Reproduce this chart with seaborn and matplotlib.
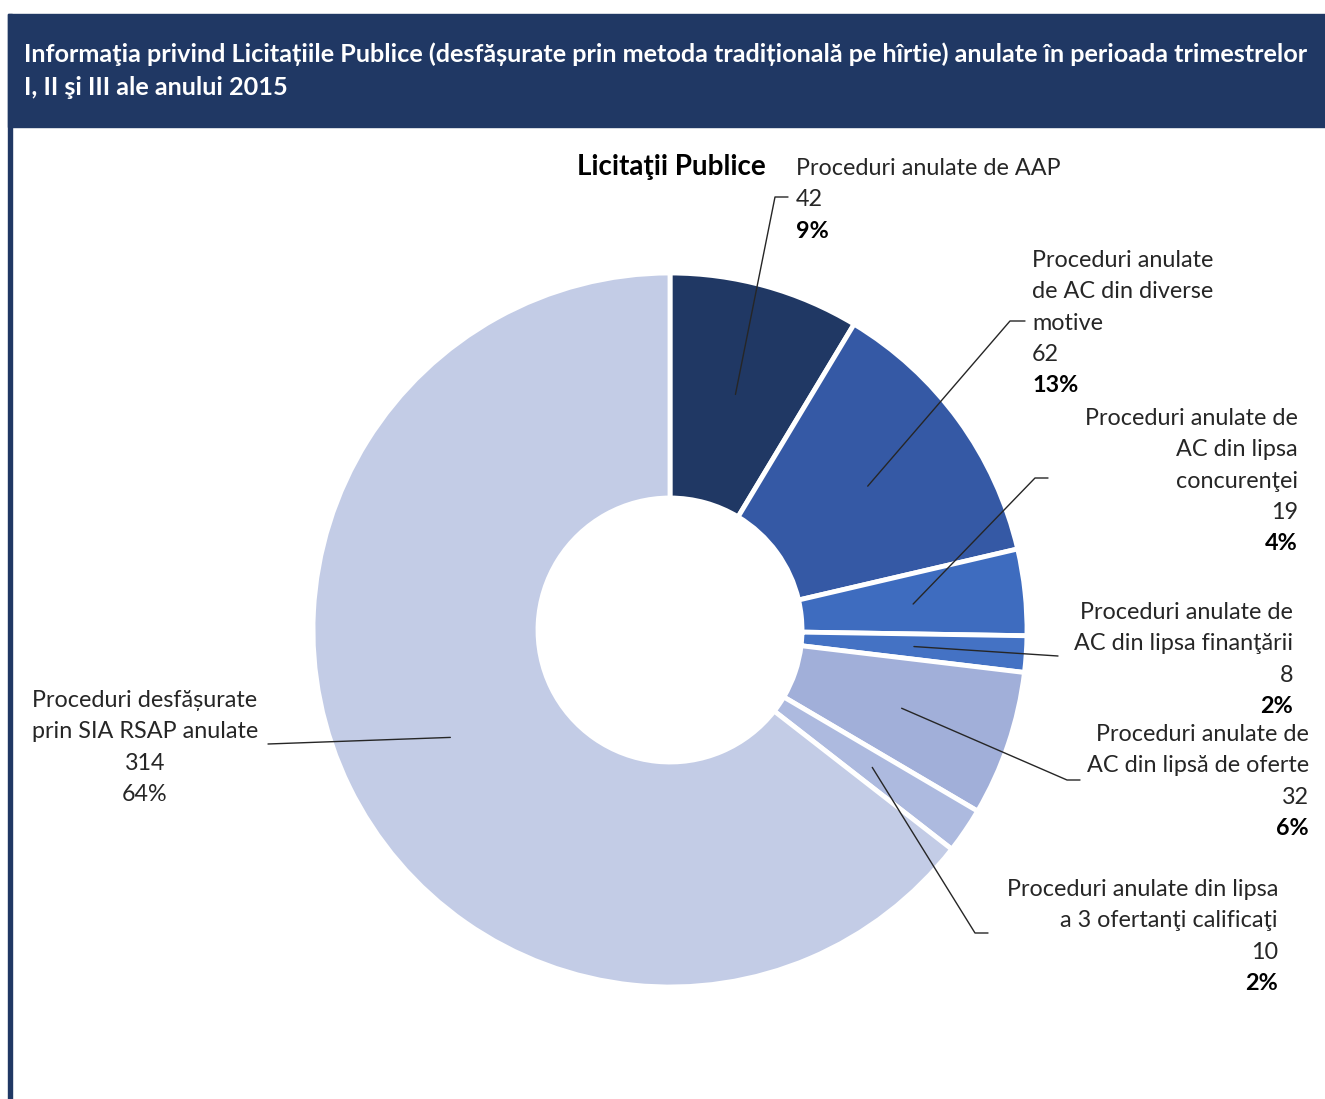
import numpy as np
import matplotlib.pyplot as plt
import seaborn as sns
from matplotlib.patches import Rectangle

W, H = 1325, 1099

# data
names = [
    ["Proceduri anulate de AAP"],
    ["Proceduri anulate", "de AC din diverse", "motive"],
    ["Proceduri anulate de", "AC din lipsa", "concurenţei"],
    ["Proceduri anulate de", "AC din lipsa finanţării"],
    ["Proceduri anulate de", "AC din lipsă de oferte"],
    ["Proceduri anulate din lipsa", "a 3 ofertanţi calificaţi"],
    ["Proceduri desfășurate", "prin SIA RSAP anulate"],
]
values = [42, 62, 19, 8, 32, 10, 314]
pct_labels = ["9%", "13%", "4%", "2%", "6%", "2%", "64%"]
pct_bold = [True, True, True, True, True, True, False]
colors = ["#203864", "#3559a5", "#3e6cbf", "#4472c4", "#a1afd9", "#adbadf", "#c3cce6"]

title_lines = [
    "Informaţia privind Licitațiile Publice (desfășurate prin metoda tradițională pe hîrtie) "
    "anulate în perioada trimestrelor",
    "I, II şi III ale anului 2015",
]
chart_title = "Licitaţii Publice"

# label placement (pixels): text x, first line center y, alignment, elbow point, line end
layout = [
    (796, 167, "left", (775, 197), (788, 197)),
    (1032, 259, "left", (1010, 321), (1025, 321)),
    (1298, 417, "right", (1035, 478), (1048, 478)),
    (1293, 611, "right", (1058, 656), (1058, 656)),
    (1309, 733, "right", (1067, 780), (1080, 780)),
    (1278, 888, "right", (975, 933), (988, 933)),
    (145, 699, "center", (268, 744), (268, 744)),
]

sns.set_theme(style="white")
plt.rcParams["font.family"] = ["Lato", "DejaVu Sans"]

fig = plt.figure(figsize=(W / 100, H / 100), dpi=100)
ax = fig.add_axes([0, 0, 1, 1])

def py(y):
    return H - y

cx, cy, R, r_in = 670, 630, 357, 132

wedges, _ = ax.pie(values, colors=colors, startangle=90, counterclock=False,
                   center=(cx, py(cy)), radius=R,
                   wedgeprops=dict(width=R - r_in, edgecolor="white", linewidth=3.5))

ax.set_xlim(0, W)
ax.set_ylim(0, H)
ax.set_aspect("equal")
ax.axis("off")

# banner and left border
ax.add_patch(Rectangle((8, py(127)), W - 8, 113, color="#203864", zorder=5))
ax.add_patch(Rectangle((8, 0), 4, py(14), color="#203864", zorder=5))
for i, ln in enumerate(title_lines):
    ax.text(24, py(62 + i * 33), ln, color="white", fontsize=18.2, fontweight="bold",
            va="baseline", ha="left", zorder=6)

ax.text(671, py(175), chart_title, fontsize=20, fontweight="bold",
        ha="center", va="baseline", color="black")

step = 31.3
mid_r = (R + r_in) / 2
fs = 16.8
for w, nm, val, pct, bold, lay in zip(wedges, names, values, pct_labels, pct_bold, layout):
    tx, ty, ha, elbow, end = lay
    ang = np.deg2rad((w.theta1 + w.theta2) / 2)
    ax_pt = (cx + mid_r * np.cos(ang), py(cy) + mid_r * np.sin(ang))
    ax.plot([ax_pt[0], elbow[0], end[0]], [ax_pt[1], py(elbow[1]), py(end[1])],
            color="#262626", lw=1.0, zorder=4)
    lines = nm + [str(val)]
    for i, ln in enumerate(lines):
        ax.text(tx, py(ty + i * step) - 8, ln, fontsize=fs, ha=ha, va="baseline", color="#262626")
    ax.text(tx, py(ty + len(lines) * step) - 8, pct, fontsize=fs, ha=ha, va="baseline",
            color="black" if bold else "#262626", fontweight="bold" if bold else "normal")

fig.savefig("out.png", dpi=100)
